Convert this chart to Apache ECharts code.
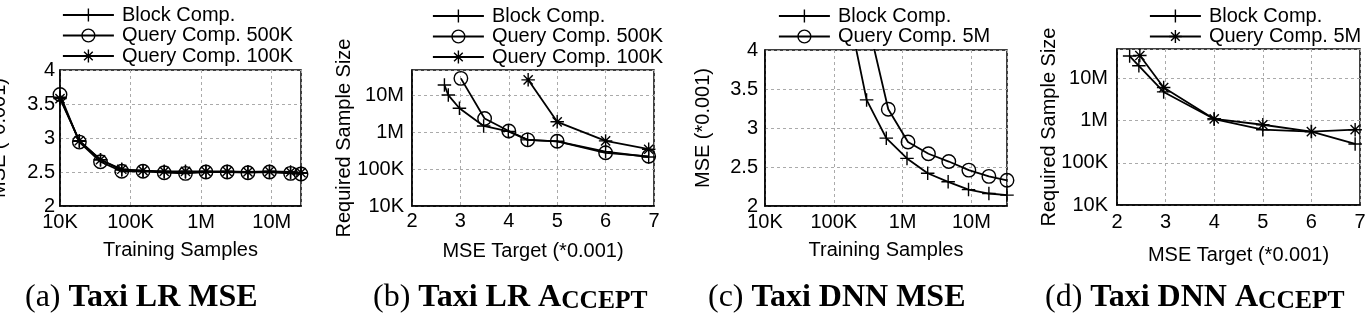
<!DOCTYPE html>
<html><head><meta charset="utf-8">
<script src="https://cdn.jsdelivr.net/npm/echarts@6/dist/echarts.min.js"></script>
<style>
html,body{margin:0;padding:0;background:#fff}
body{width:1366px;height:321px;overflow:hidden;position:relative}
.p{position:absolute;top:0;height:321px}
</style></head><body>
<div id="pa" class="p" style="left:0;width:341px"></div>
<div id="pb" class="p" style="left:300px;width:382px"></div>
<div id="pc" class="p" style="left:682px;width:342px"></div>
<div id="pd" class="p" style="left:1024px;width:342px"></div>
<script>
// ---------- data ----------
// (a) Taxi LR MSE : x = training samples, y = MSE (*0.001)
const aX = [10000, 18800, 37500, 75000, 150000, 300000, 600000, 1170000, 2340000, 4600000, 9300000, 18500000, 26000000];
const aBlock = [3.60, 2.95, 2.68, 2.53, 2.52, 2.50, 2.50, 2.50, 2.50, 2.50, 2.50, 2.49, 2.48];
const aQuery500K = [3.64, 2.94, 2.65, 2.51, 2.51, 2.49, 2.48, 2.50, 2.50, 2.49, 2.50, 2.48, 2.47];
const aQuery100K = [3.58, 2.96, 2.68, 2.54, 2.52, 2.51, 2.51, 2.51, 2.51, 2.50, 2.51, 2.50, 2.49];

// (b) Taxi LR ACCEPT : x = MSE target (*0.001), y = required sample size
const bBlockX = [2.67, 2.75, 2.98, 3.48, 3.99, 4.39, 5.0, 6.0, 6.89];
const bBlockY = [19500000, 10400000, 4550000, 1500000, 1070000, 630000, 575000, 300000, 215000];
const bQ500X = [3.01, 3.5, 4.0, 4.39, 5.0, 6.0, 6.89];
const bQ500Y = [29600000, 2400000, 1100000, 630000, 575000, 280000, 225000];
const bQ100X = [4.4, 5.0, 6.0, 6.89];
const bQ100Y = [27000000, 1950000, 590000, 350000];

// (c) Taxi DNN MSE
const cBlockX = [150000, 300000, 580000, 1160000, 2320000, 4600000, 9100000, 18000000, 33000000];
const cBlockY = [4.65, 3.36, 2.87, 2.61, 2.42, 2.31, 2.21, 2.16, 2.14];
const cQ5MX = [300000, 620000, 1200000, 2380000, 4700000, 9200000, 18000000, 33000000];
const cQ5MY = [4.43, 3.24, 2.82, 2.67, 2.57, 2.46, 2.38, 2.33];

// (d) Taxi DNN ACCEPT
const dBlockX = [2.26, 2.45, 2.96, 4.0, 5.0, 6.0, 6.9];
const dBlockY = [34000000, 20000000, 4800000, 1090000, 610000, 550000, 280000];
const dQ5MX = [2.47, 2.96, 4.0, 5.0, 6.0, 6.9];
const dQ5MY = [35000000, 6100000, 1100000, 800000, 550000, 610000];

// tick labels for the log axes
const logTickExps = [4, 5, 6, 7];
const logTickLabels = ['10K', '100K', '1M', '10M'];

// ---------- helpers ----------
const FONT = 'Liberation Sans';
const SERIF = 'Liberation Serif';
const SYM_PLUS = 'path://M0,5L10,5M5,0L5,10';
const SYM_STAR = 'path://M0,5L10,5M5,0L5,10M1.6,1.6L8.4,8.4M1.6,8.4L8.4,1.6';
const SYM_CIRCLE = 'circle';

function powLabel(v) {
  const e = Math.log10(v); const n = Math.round(e);
  if (Math.abs(e - n) > 1e-6) return '';
  const i = logTickExps.indexOf(n);
  return i < 0 ? '' : logTickLabels[i];
}
function ser(name, xs, ys, symbol) {
  return {
    type: 'line', name: name, data: xs.map((x, i) => [x, ys[i]]),
    symbol: symbol, symbolSize: 13.5, showAllSymbol: true, clip: true,
    lineStyle: { color: '#000', width: 1.8 },
    itemStyle: { color: 'transparent', borderColor: '#000', borderWidth: 1.4 },
    emphasis: { disabled: true }, animation: false
  };
}
function axisBase(extra) {
  return Object.assign({
    nameLocation: 'middle', nameMoveOverlap: false,
    axisLine: { show: true, onZero: false, lineStyle: { color: '#000', width: 1.5 } },
    axisTick: { show: false },
    splitLine: { show: true, lineStyle: { color: '#aaa', width: 1, type: [3, 3] } },
    axisLabel: { color: '#000', fontFamily: FONT, fontSize: 20, hideOverlap: false },
    nameTextStyle: { color: '#000', fontFamily: FONT, fontSize: 20 }
  }, extra);
}
function legendCfg(left, top, names) {
  return {
    data: names, orient: 'vertical', left: left, top: top,
    itemWidth: 51, itemHeight: 16, itemGap: 0.5, selectedMode: false,
    textStyle: { color: '#000', fontFamily: FONT, fontSize: 20, lineHeight: 20, padding: [0, 0, 0, 3] },
    lineStyle: { color: '#000', width: 1.8 },
    itemStyle: { color: 'transparent', borderColor: '#000', borderWidth: 1.4 }
  };
}
function caption(x, text) {
  return [{
    type: 'text', x: x, y: 298, silent: true,
    style: {
      text: text, align: 'left', verticalAlign: 'middle',
      rich: {
        r: { fontFamily: SERIF, fontSize: 32, lineHeight: 32, fill: '#000', verticalAlign: 'bottom' },
        b: { fontFamily: SERIF, fontSize: 32, lineHeight: 32, fontWeight: 'bold', fill: '#000', verticalAlign: 'bottom' },
        s: { fontFamily: SERIF, fontSize: 25.5, lineHeight: 28, fontWeight: 'bold', fill: '#000', verticalAlign: 'bottom' }
      }
    }
  }];
}
function gridCfg(left, top, width, height) {
  return { left: left, top: top, width: width, height: height, show: true, borderColor: '#000', borderWidth: 1.5,
    backgroundColor: 'transparent', containLabel: false, outerBoundsMode: 'none' };
}

// ---------- (a) ----------
echarts.init(document.getElementById('pa')).setOption({
  animation: false,
  grid: gridCfg(60, 70, 241, 136),
  legend: legendCfg(57, 0, ['Block Comp.', 'Query Comp. 500K', 'Query Comp. 100K']),
  xAxis: axisBase({ type: 'log', min: 10000, max: 26000000, name: 'Training Samples', nameGap: 34,
    axisLabel: { color: '#000', fontFamily: FONT, fontSize: 20, margin: 6, formatter: powLabel } }),
  yAxis: axisBase({ type: 'value', min: 2, max: 4, interval: 0.5, name: 'MSE (*0.001)', nameGap: 51,
    axisLabel: { color: '#000', fontFamily: FONT, fontSize: 20, margin: 5 } }),
  series: [
    ser('Block Comp.', aX, aBlock, SYM_PLUS),
    ser('Query Comp. 500K', aX, aQuery500K, SYM_CIRCLE),
    ser('Query Comp. 100K', aX, aQuery100K, SYM_STAR)
  ],
  graphic: caption(25, '{r|(a) }{b|Taxi LR MSE}')
});

// ---------- (b) ----------
echarts.init(document.getElementById('pb')).setOption({
  animation: false,
  grid: gridCfg(112, 70, 242, 136),
  legend: legendCfg(127, 1, ['Block Comp.', 'Query Comp. 500K', 'Query Comp. 100K']),
  xAxis: axisBase({ type: 'value', min: 2, max: 7, interval: 1, name: 'MSE Target (*0.001)', nameGap: 35,
    axisLabel: { color: '#000', fontFamily: FONT, fontSize: 20, margin: 5 } }),
  yAxis: axisBase({ type: 'log', min: 10000, max: 50000000, name: 'Required Sample Size', nameGap: 58,
    axisLabel: { color: '#000', fontFamily: FONT, fontSize: 20, margin: 8, formatter: powLabel } }),
  series: [
    ser('Block Comp.', bBlockX, bBlockY, SYM_PLUS),
    ser('Query Comp. 500K', bQ500X, bQ500Y, SYM_CIRCLE),
    ser('Query Comp. 100K', bQ100X, bQ100Y, SYM_STAR)
  ],
  graphic: caption(73, '{r|(b) }{b|Taxi LR A}{s|CCEPT}')
});

// ---------- (c) ----------
echarts.init(document.getElementById('pc')).setOption({
  animation: false,
  grid: gridCfg(83, 50, 242, 156),
  legend: legendCfg(91, 1, ['Block Comp.', 'Query Comp. 5M']),
  xAxis: axisBase({ type: 'log', min: 10000, max: 33000000, name: 'Training Samples', nameGap: 34,
    axisLabel: { color: '#000', fontFamily: FONT, fontSize: 20, margin: 6, formatter: powLabel } }),
  yAxis: axisBase({ type: 'value', min: 2, max: 4, interval: 0.5, name: 'MSE (*0.001)', nameGap: 52,
    axisLabel: { color: '#000', fontFamily: FONT, fontSize: 20, margin: 7 } }),
  series: [
    ser('Block Comp.', cBlockX, cBlockY, SYM_PLUS),
    ser('Query Comp. 5M', cQ5MX, cQ5MY, SYM_CIRCLE)
  ],
  graphic: caption(26, '{r|(c) }{b|Taxi DNN MSE}')
});

// ---------- (d) ----------
echarts.init(document.getElementById('pd')).setOption({
  animation: false,
  grid: gridCfg(93, 49, 243, 156),
  legend: legendCfg(120, 1, ['Block Comp.', 'Query Comp. 5M']),
  xAxis: axisBase({ type: 'value', min: 2, max: 7, interval: 1, name: 'MSE Target (*0.001)', nameGap: 40,
    axisLabel: { color: '#000', fontFamily: FONT, fontSize: 20, margin: 7 } }),
  yAxis: axisBase({ type: 'log', min: 10000, max: 50000000, name: 'Required Sample Size', nameGap: 58,
    axisLabel: { color: '#000', fontFamily: FONT, fontSize: 20, margin: 9, formatter: powLabel } }),
  series: [
    ser('Block Comp.', dBlockX, dBlockY, SYM_PLUS),
    ser('Query Comp. 5M', dQ5MX, dQ5MY, SYM_STAR)
  ],
  graphic: caption(21, '{r|(d) }{b|Taxi DNN A}{s|CCEPT}')
});
</script>
</body></html>
